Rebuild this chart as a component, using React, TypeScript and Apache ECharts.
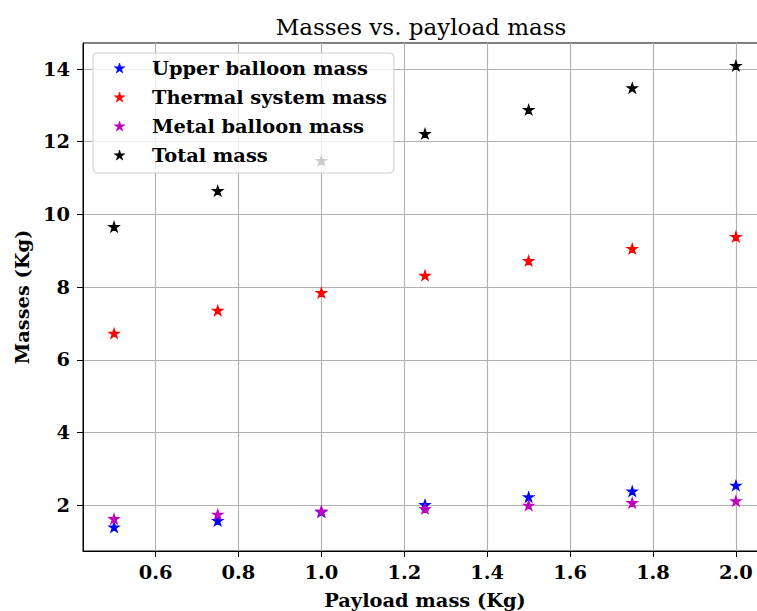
import React, { useEffect, useRef } from "react";
import * as echarts from "echarts";

const payload = [0.5, 0.75, 1.0, 1.25, 1.5, 1.75, 2.0];
const upperBalloon = [1.4, 1.58, 1.82, 2.02, 2.23, 2.39, 2.55];
const thermal = [6.73, 7.36, 7.85, 8.32, 8.73, 9.06, 9.39];
const metalBalloon = [1.63, 1.75, 1.84, 1.91, 2.0, 2.07, 2.12];
const total = [9.66, 10.65, 11.48, 12.22, 12.88, 13.48, 14.09];
const xTicks = [0.6, 0.8, 1.0, 1.2, 1.4, 1.6, 1.8, 2.0];
const yTicks = [2, 4, 6, 8, 10, 12, 14];

const STAR =
  "path://M50 0 L61.23 34.55 L97.55 34.55 L68.16 55.9 L79.39 90.45 L50 69.1 L20.61 90.45 L31.84 55.9 L2.45 34.55 L38.77 34.55 Z";
const FONT = "DejaVu Serif";
const FS = 19.4;

const seriesDefs = [
  { name: "Upper balloon mass", color: "#0000ff", values: upperBalloon },
  { name: "Thermal system mass", color: "#ff0000", values: thermal },
  { name: "Metal balloon mass", color: "#bf00bf", values: metalBalloon },
  { name: "Total mass", color: "#000000", values: total },
];

export default function App() {
  const ref = useRef<HTMLDivElement>(null);
  useEffect(() => {
    if (!ref.current) return;
    const chart = echarts.init(ref.current, null, { renderer: "svg" });
    chart.setOption({
      animation: false,
      backgroundColor: "#ffffff",
      title: {
        text: "Masses vs. payload mass",
        left: 416,
        textAlign: "center",
        top: 10,
        textStyle: { fontFamily: FONT, fontWeight: "normal", fontSize: 23, color: "#000" },
      },
      grid: {
        left: 83,
        top: 43,
        bottom: 60,
        right: 0,
        show: true,
        borderColor: "#000",
        borderWidth: 1,
        outerBoundsMode: "none",
        containLabel: false,
      },
      legend: {
        orient: "vertical",
        left: 93,
        top: 53,
        icon: STAR,
        itemWidth: 37,
        itemHeight: 10,
        itemGap: 9,
        padding: [5, 7, 8, 21],
        backgroundColor: "rgba(255,255,255,0.8)",
        borderColor: "#cccccc",
        borderWidth: 1,
        borderRadius: 4,
        itemStyle: { borderWidth: 0.6 },
        formatter: (name: string) => "{g|}" + name,
        textStyle: {
          fontFamily: FONT,
          fontWeight: "bold",
          fontSize: FS,
          lineHeight: 20,
          color: "#000",
          rich: {
            g: { width: 9 },
          },
        },
        data: seriesDefs.map((s) => s.name),
      },
      xAxis: {
        type: "value",
        min: 0.425,
        max: 2.075,
        name: "Payload mass (Kg)",
        nameLocation: "middle",
        nameGap: 40,
        nameTextStyle: { fontFamily: FONT, fontWeight: "bold", fontSize: FS, color: "#000" },
        axisLine: { show: true, lineStyle: { color: "#000", width: 1 } },
        axisTick: { show: true, length: 6, customValues: xTicks, lineStyle: { color: "#000" } },
        axisLabel: {
          customValues: xTicks,
          margin: 12,
          formatter: (v: number) => v.toFixed(1),
          fontFamily: FONT,
          fontWeight: "bold",
          fontSize: FS,
          color: "#000",
        },
        splitLine: { show: true, lineStyle: { color: "#b0b0b0", width: 1.1 } },
      },
      yAxis: {
        type: "value",
        min: 0.745,
        max: 14.715,
        name: "Masses (Kg)",
        nameLocation: "middle",
        nameGap: 50,
        nameTextStyle: { fontFamily: FONT, fontWeight: "bold", fontSize: FS, color: "#000" },
        axisLine: { show: true, lineStyle: { color: "#000", width: 1 } },
        axisTick: { show: true, length: 6, customValues: yTicks, lineStyle: { color: "#000" } },
        axisLabel: {
          customValues: yTicks,
          margin: 13,
          formatter: (v: number) => String(v),
          fontFamily: FONT,
          fontWeight: "bold",
          fontSize: FS,
          color: "#000",
        },
        splitLine: { show: true, lineStyle: { color: "#b0b0b0", width: 1.1 } },
      },
      series: seriesDefs.map((s) => ({
        name: s.name,
        type: "scatter",
        symbol: STAR,
        symbolKeepAspect: true,
        symbolSize: 10,
        itemStyle: { color: s.color, opacity: 1, borderColor: s.color, borderWidth: 1.2 },
        data: payload.map((x, i) => [x, s.values[i]]),
      })),
    });
    return () => chart.dispose();
  }, []);
  return (
    <div
      style={{ position: "absolute", left: 0, top: 0, width: 757, height: 611, overflow: "hidden" }}
    >
      <div ref={ref} style={{ width: 767, height: 611 }} />
    </div>
  );
}
